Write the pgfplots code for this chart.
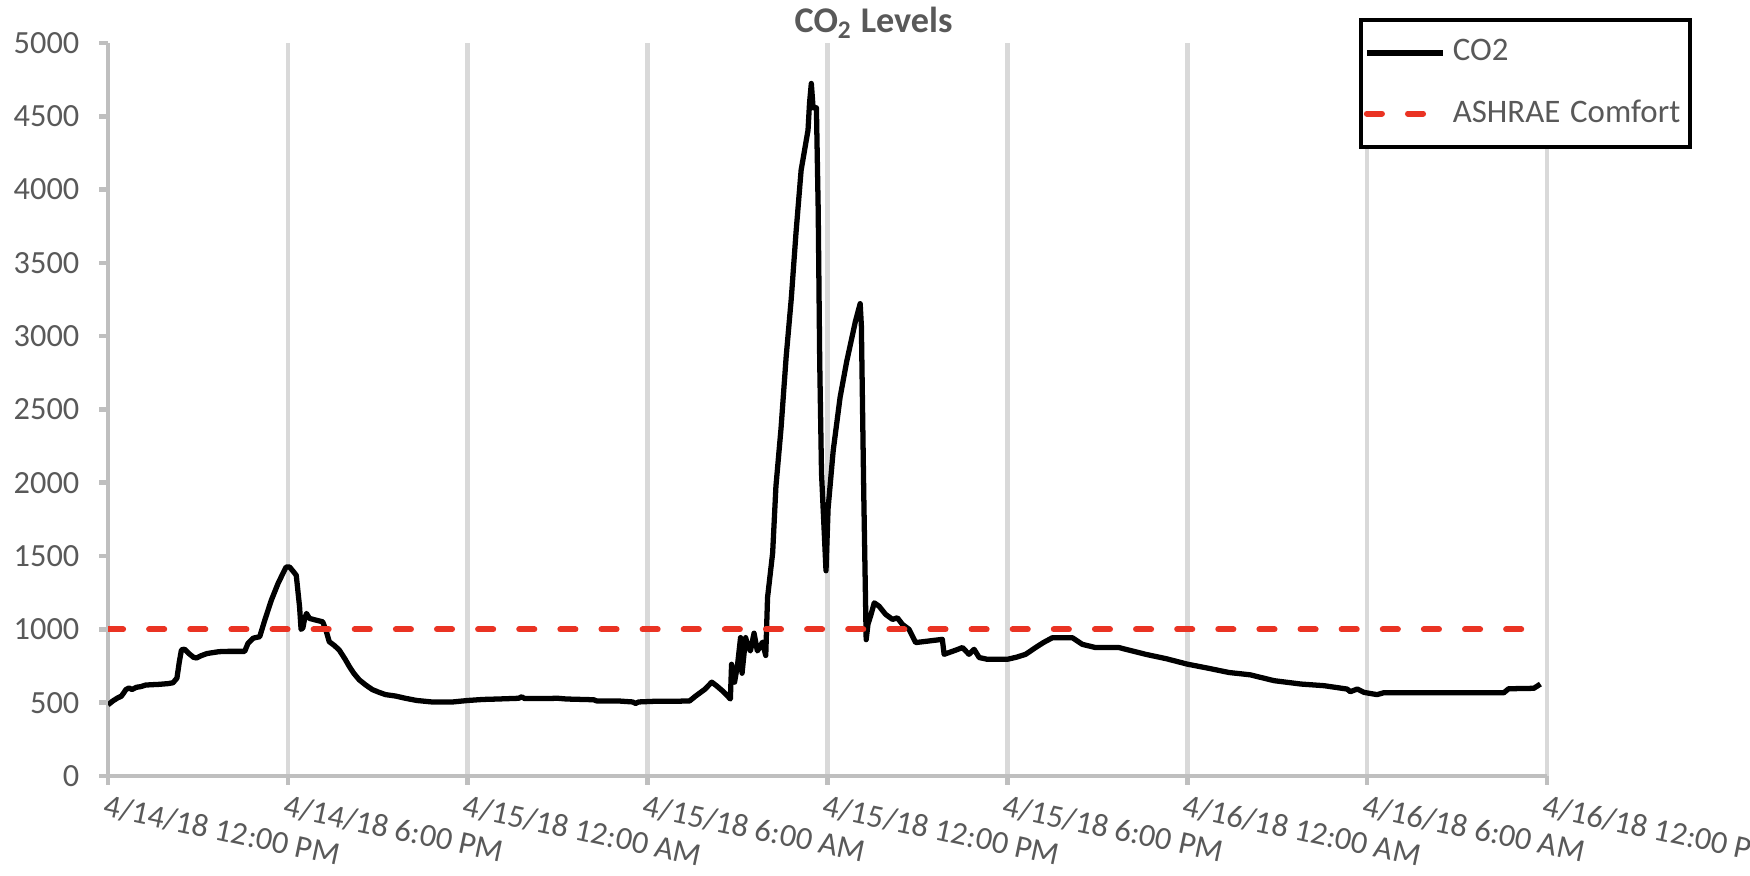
\documentclass[border=0pt]{standalone}
\usepackage{pgfplots}
\pgfplotsset{compat=1.18}
\usepackage{fontspec}
\setmainfont{Carlito}

\definecolor{txtgray}{RGB}{89,89,89}
\definecolor{gridgray}{RGB}{217,217,217}
\definecolor{axisgray}{RGB}{191,191,191}
\definecolor{comfortred}{RGB}{234,51,35}

\pgfplotsset{
  co2img/.style={legend image code/.code={\draw[##1] (0cm,0cm) -- (0.76cm,0cm);}},
  redimg/.style={legend image code/.code={\draw[##1] (0cm,0cm) -- (0.62cm,0cm); \path (0.76cm,0cm);}},
}

% hours since 4/14/18 12:00 PM, CO2 in ppm
\pgfplotstableread{
h val
0 485
0.15 510
0.3 530
0.45 545
0.6 590
0.7 600
0.8 590
0.95 605
1.1 610
1.25 620
1.4 622
1.7 625
2.0 630
2.17 636
2.3 668
2.38 780
2.45 860
2.55 865
2.7 835
2.85 810
2.95 805
3.1 820
3.3 835
3.45 840
3.7 848
4.0 850
4.3 850
4.56 850
4.67 905
4.84 940
5.06 950
5.23 1063
5.45 1200
5.67 1312
5.83 1380
5.94 1425
6.06 1425
6.2 1390
6.28 1369
6.39 1154
6.44 1000
6.5 1010
6.55 1063
6.62 1109
6.72 1075
6.94 1063
7.16 1052
7.27 995
7.38 916
7.55 890
7.71 860
7.9 800
8.05 747
8.2 700
8.38 656
8.6 620
8.82 589
9.05 570
9.26 555
9.6 545
9.92 530
10.3 515
10.8 505
11.5 505
12.0 515
12.5 522
13.0 525
13.7 530
13.8 540
13.9 528
14.5 528
15.0 530
15.3 525
16.2 520
16.3 512
17.0 512
17.5 505
17.6 495
17.7 505
18.3 510
19.0 510
19.4 512
19.6 545
19.9 590
20.14 640
20.3 615
20.5 580
20.65 549
20.76 525
20.8 762
20.9 640
21.0 760
21.1 944
21.15 701
21.27 944
21.35 880
21.43 853
21.55 974
21.66 853
21.75 880
21.83 913
21.94 822
22.0 1217
22.17 1521
22.28 1976
22.45 2371
22.62 2857
22.79 3252
22.95 3707
23.12 4132
23.35 4405
23.4 4588
23.46 4724
23.52 4558
23.63 4558
23.69 3859
23.74 2827
23.80 2068
23.95 1400
24.02 1825
24.19 2219
24.42 2583
24.64 2827
24.93 3100
25.09 3222
25.13 3070
25.21 1916
25.29 930
25.35 1035
25.45 1100
25.56 1181
25.72 1158
25.94 1102
26.17 1068
26.33 1079
26.5 1034
26.72 1000
26.94 910
27.39 921
27.83 932
27.89 830
28.3 860
28.5 876
28.72 830
28.89 864
29.06 808
29.33 796
30.0 796
30.3 810
30.61 830
30.94 876
31.2 910
31.5 943
32.17 943
32.5 898
32.94 876
33.72 876
34.61 830
35.3 800
36.0 763
36.7 735
37.39 706
38.1 690
38.9 650
39.8 627
40.56 616
41.33 593
41.44 575
41.67 593
41.9 570
42.33 555
42.56 568
46.56 568
46.72 595
47.56 598
47.78 627
}\cotwo

\begin{document}
\begin{tikzpicture}
\begin{axis}[
  at={(0,0)}, anchor=south west,
  scale only axis, width=14.39cm, height=7.33cm,
  xmin=0, xmax=48, ymin=0, ymax=5000,
  axis lines=left,
  axis line style={-, axisgray, line width=1.3pt},
  xtick={0,6,...,48},
  xticklabels={4/14/18 12:00 PM, 4/14/18 6:00 PM, 4/15/18 12:00 AM, 4/15/18 6:00 AM,
    4/15/18 12:00 PM, 4/15/18 6:00 PM, 4/16/18 12:00 AM, 4/16/18 6:00 AM, 4/16/18 12:00 PM},
  ytick={0,500,...,5000},
  tick align=outside,
  major tick length=0.09cm,
  tick style={axisgray, line width=1.3pt},
  xmajorgrids,
  grid style={gridgray, line width=1.3pt},
  /pgf/number format/assume math mode=true,
  /pgf/number format/set thousands separator={},
  tick label style={font=\fontsize{9.2}{11}\selectfont, text=txtgray},
  yticklabel style={anchor=east, inner sep=0pt, xshift=-0.19cm},
  xticklabel style={rotate=-12, anchor=north west, inner sep=0pt, yshift=-0.08cm},
  every axis title shift=0pt,
  title={\bfseries CO\textsubscript{2} Levels},
  title style={at={(0.532,1)}, anchor=base, yshift=0.1cm,
    font=\fontsize{10.3}{12}\selectfont, text=txtgray},
  legend cell align=left,
  legend style={at={(0.8693,1.034)}, anchor=north west,
    draw=black, line width=1.1pt, fill=white,
    font=\fontsize{9.35}{11.2}\selectfont, text=txtgray,
    inner xsep=0.03cm, inner ysep=3.6pt, row sep=5.5pt,
    /tikz/every even column/.append style={column sep=0cm}},
]
\addplot[black, line width=1.5pt, line join=round, co2img]
  table[x=h, y=val] {\cotwo};
\addlegendentry{CO2}
\addplot[comfortred, line width=1.7pt, line cap=round, dash pattern=on 4.3pt off 7.4pt, redimg]
  coordinates {(0,1000) (48,1000)};
\addlegendentry{ASHRAE\hspace{0.3em}Comfort}
\end{axis}
\pgfresetboundingbox
\useasboundingbox (-1.08cm,-1.00cm) rectangle (16.42cm,7.76cm);
\end{tikzpicture}
\end{document}
